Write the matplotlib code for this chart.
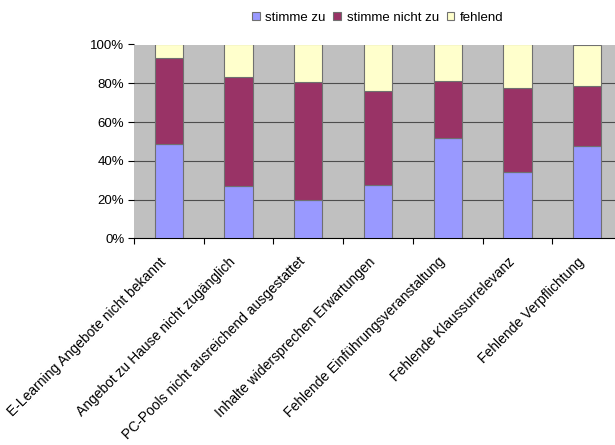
import matplotlib
matplotlib.use("Agg")
import matplotlib.pyplot as plt
import matplotlib.transforms as mtransforms
import numpy as np

plt.rcParams['font.family'] = ['Liberation Sans', 'DejaVu Sans']

categories = [
    "E-Learning Angebote nicht bekannt",
    "Angebot zu Hause nicht zugänglich",
    "PC-Pools nicht ausreichend ausgestattet",
    "Inhalte widersprechen Erwartungen",
    "Fehlende Einführungsveranstaltung",
    "Fehlende Klaussurrelevanz",
    "Fehlende Verpflichtung",
]
stimme_zu = [48.7, 27.2, 19.8, 27.5, 52.0, 34.1, 47.8]
stimme_nicht_zu = [44.4, 55.9, 60.6, 48.7, 29.1, 43.2, 30.9]
fehlend = [6.9, 16.9, 19.6, 23.8, 18.9, 22.7, 21.3]
series_names = ["stimme zu", "stimme nicht zu", "fehlend"]
colors = ["#9999FF", "#993366", "#FFFFCC"]
y_ticks = [0, 20, 40, 60, 80, 100]
y_tick_labels = ["0%", "20%", "40%", "60%", "80%", "100%"]

fig = plt.figure(figsize=(6.15, 4.45), dpi=100)
ax = fig.add_axes([0.2179, 0.4645, 0.7821, 0.4355])
ax.set_facecolor("#C0C0C0")

x = np.arange(len(categories))
bottom = np.zeros(len(categories))
handles = []
for vals, name, col in zip([stimme_zu, stimme_nicht_zu, fehlend], series_names, colors):
    vals = np.array(vals)
    b = ax.bar(x, vals, width=0.405, bottom=bottom, color=col, edgecolor="#707070",
               linewidth=0.8, label=name, zorder=3)
    handles.append(b)
    bottom += vals

ax.set_ylim(0, 100)
ax.set_xlim(-0.5, 6.40)
ax.set_yticks(y_ticks)
ax.set_yticklabels(y_tick_labels, fontsize=9.5)
for yv in y_ticks[1:-1]:
    ax.axhline(yv, color="#4D4D4D", linewidth=0.8, zorder=1)

# tick marks sit on the category boundaries
ax.set_xticks(np.arange(len(categories)) - 0.5)
ax.set_xticklabels([])
ax.tick_params(axis="x", direction="out", length=4, color="#000000", width=0.8)
ax.tick_params(axis="y", direction="out", length=4, color="#000000", width=0.8, pad=3)
ax.set_xticks(x, minor=True)
ax.set_xticklabels(categories, minor=True, rotation=45, ha="right", va="top",
                   rotation_mode="anchor", fontsize=10)
ax.tick_params(axis="x", which="minor", length=0, pad=14)
shift = mtransforms.ScaledTranslation(-0.10, 0.03, fig.dpi_scale_trans)
for lbl in ax.get_xticklabels(minor=True):
    lbl.set_transform(lbl.get_transform() + shift)

for s in ["top", "right", "left"]:
    ax.spines[s].set_visible(False)
ax.spines["bottom"].set_color("#000000")
ax.spines["bottom"].set_linewidth(0.8)

fig.legend(handles=handles, labels=series_names, loc="center", bbox_to_anchor=(0.614, 0.96),
           ncol=3, frameon=False, fontsize=9.5, handlelength=0.6, handleheight=0.6,
           handletextpad=0.4, columnspacing=0.6)

fig.savefig("out.png", dpi=100)
